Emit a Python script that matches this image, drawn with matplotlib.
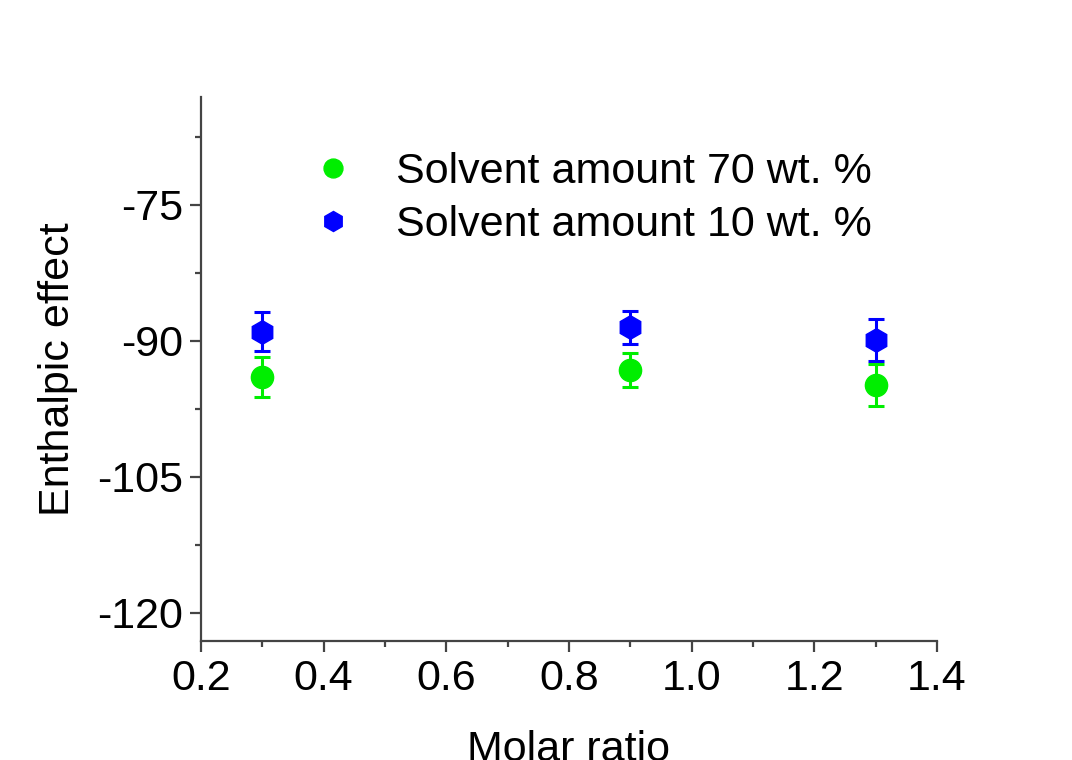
import matplotlib
matplotlib.use("Agg")
import matplotlib.pyplot as plt
from matplotlib.ticker import MultipleLocator

plt.rcParams['font.family'] = ['Liberation Sans', 'DejaVu Sans']
plt.rcParams['axes.unicode_minus'] = False

molar_ratio = [0.3, 0.9, 1.3]
green_vals = [-94.0, -93.2, -94.85]
green_err = [2.2, 1.9, 2.3]
blue_vals = [-89.0, -88.5, -89.9]
blue_err = [2.15, 1.8, 2.3]
labels = ["Solvent amount 70 wt. %", "Solvent amount 10 wt. %"]

fig = plt.figure(figsize=(10.72, 7.6), dpi=100)
ax = fig.add_axes([0.1875, 0.1566, 0.6865, 0.7158])

ax.errorbar(molar_ratio, green_vals, yerr=green_err, fmt='o', color='#00ee00',
            ecolor='#00ee00', markersize=16, elinewidth=2.2, capsize=5.5, capthick=2.2,
            label=labels[0], zorder=3)
ax.errorbar(molar_ratio, blue_vals, yerr=blue_err, fmt='h', color='#0000ff',
            ecolor='#0000ff', markersize=17, elinewidth=2.2, capsize=5.5, capthick=2.2,
            label=labels[1], zorder=4)

ax.set_xlim(0.2, 1.4)
ax.set_ylim(-123.1, -63.1)
ax.xaxis.set_major_locator(MultipleLocator(0.2))
ax.xaxis.set_minor_locator(MultipleLocator(0.1))
ax.yaxis.set_major_locator(MultipleLocator(15))
ax.yaxis.set_minor_locator(MultipleLocator(7.5))
ax.set_yticks([-120, -105, -90, -75])

for s in ['top', 'right']:
    ax.spines[s].set_visible(False)
for s in ['left', 'bottom']:
    ax.spines[s].set_linewidth(1.6)
    ax.spines[s].set_color('#444444')

ax.tick_params(which='major', direction='out', length=8, width=1.6, color='#444444',
               labelsize=31, pad=5)
ax.tick_params(which='minor', direction='out', length=4, width=1.6, color='#444444')

ax.set_xlabel("Molar ratio", fontsize=31, labelpad=22)
ax.set_ylabel("Enthalpic effect", fontsize=31, labelpad=14)

handles, lbls = ax.get_legend_handles_labels()
handles = [h[0] for h in handles]
leg = ax.legend(handles, lbls, loc='upper left', bbox_to_anchor=(0.098, 0.97),
                frameon=False, fontsize=31, markerscale=0.85, handletextpad=0.95,
                handlelength=1.0, labelspacing=0.3, borderpad=0.4)

fig.savefig("out.png", dpi=100)
